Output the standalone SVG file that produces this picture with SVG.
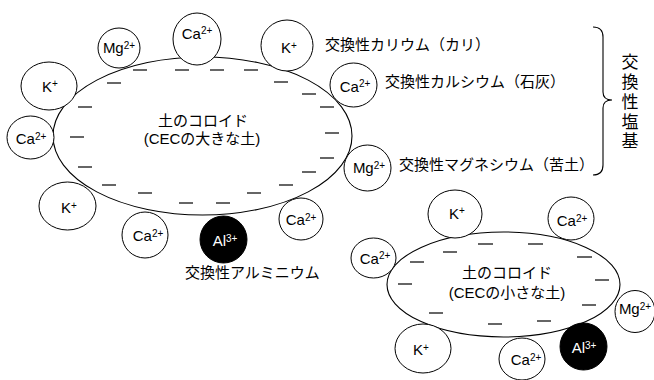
<svg xmlns="http://www.w3.org/2000/svg" width="654" height="380" viewBox="0 0 654 380">
<style>
.ln{fill:none;stroke:#000;stroke-width:1.1}
.ion{fill:#fff;stroke:#000;stroke-width:1}
.al{fill:#000;stroke:#000;stroke-width:1}
.t{font-family:"Liberation Sans","Noto Sans CJK JP",sans-serif;font-size:15px;fill:#000;text-anchor:middle}
.w{fill:#fff}
.s{font-size:10px}
.j{font-family:"Liberation Sans","Noto Sans CJK JP",sans-serif;font-size:15px;fill:#000}
.c{text-anchor:middle}
.v{font-family:"Noto Sans CJK JP",sans-serif;font-size:17px;fill:#000;writing-mode:vertical-rl;letter-spacing:2.75px}
.d{stroke:#000;stroke-width:1.2}
</style>
<rect width="654" height="380" fill="#fff"/>
<g id="colloid-large">
<ellipse class="ln" cx="202.5" cy="136" rx="149.5" ry="79"/>
<text class="j c" x="203" y="125.5">土のコロイド</text>
<text class="j c" x="202" y="144">(CECの大きな土)</text>
<g class="d">
<line x1="133" y1="70" x2="147" y2="70"/><line x1="175" y1="70" x2="189" y2="70"/>
<line x1="210" y1="70" x2="224" y2="70"/><line x1="244" y1="70" x2="258" y2="70"/>
<line x1="107" y1="83" x2="121" y2="83"/><line x1="274" y1="82" x2="288" y2="82"/>
<line x1="78" y1="107" x2="92" y2="107"/><line x1="302" y1="94" x2="316" y2="94"/>
<line x1="320" y1="107" x2="334" y2="107"/>
<line x1="70" y1="137" x2="84" y2="137"/><line x1="325" y1="133" x2="339" y2="133"/>
<line x1="78" y1="167" x2="92" y2="167"/><line x1="320" y1="158" x2="334" y2="158"/>
<line x1="302" y1="172" x2="316" y2="172"/>
<line x1="102" y1="185" x2="116" y2="185"/><line x1="279" y1="185" x2="293" y2="185"/>
<line x1="138" y1="193" x2="152" y2="193"/><line x1="247" y1="193" x2="261" y2="193"/>
<line x1="179" y1="203" x2="193" y2="203"/><line x1="216" y1="203" x2="230" y2="203"/>
</g>
</g>
<g id="colloid-small">
<ellipse class="ln" cx="503.5" cy="284.5" rx="116.5" ry="52.5"/>
<text class="j c" x="507" y="277.5">土のコロイド</text>
<text class="j c" x="507" y="297.5">(CECの小さな土)</text>
<g class="d">
<line x1="478" y1="244" x2="493" y2="244"/><line x1="528" y1="244" x2="543" y2="244"/>
<line x1="443" y1="252" x2="457" y2="252"/><line x1="577" y1="257" x2="592" y2="257"/>
<line x1="410" y1="262" x2="424" y2="262"/><line x1="595" y1="280" x2="609" y2="280"/>
<line x1="398" y1="284" x2="412" y2="284"/><line x1="582" y1="305" x2="596" y2="305"/>
<line x1="429" y1="313" x2="443" y2="313"/><line x1="488" y1="324" x2="502" y2="324"/>
<line x1="537" y1="321" x2="551" y2="321"/>
</g>
</g>
<g id="ion-mg-top"><ellipse class="ion" cx="119" cy="48" rx="21" ry="20"/><text class="t" x="119" y="53">Mg<tspan class="s" dy="-4.5">2+</tspan></text></g>
<g id="ion-ca-top"><ellipse class="ion" cx="197" cy="39" rx="24" ry="26"/><text class="t" x="197" y="38.5">Ca<tspan class="s" dy="-4.5">2+</tspan></text></g>
<g id="ion-k-top"><ellipse class="ion" cx="287" cy="45.5" rx="26" ry="25.5"/><text class="t" x="289" y="53">K<tspan class="s" dy="-4.5">+</tspan></text></g>
<g id="ion-k-left"><ellipse class="ion" cx="49" cy="86" rx="28" ry="24"/><text class="t" x="50" y="91.5">K<tspan class="s" dy="-4.5">+</tspan></text></g>
<g id="ion-ca-left"><ellipse class="ion" cx="30.5" cy="137.5" rx="23.5" ry="21.5"/><text class="t" x="31" y="144">Ca<tspan class="s" dy="-4.5">2+</tspan></text></g>
<g id="ion-ca-right"><ellipse class="ion" cx="353.5" cy="85" rx="23.5" ry="22"/><text class="t" x="355" y="91.5">Ca<tspan class="s" dy="-4.5">2+</tspan></text></g>
<g id="ion-mg-right"><ellipse class="ion" cx="367.5" cy="168" rx="23.5" ry="23"/><text class="t" x="369" y="173">Mg<tspan class="s" dy="-4.5">2+</tspan></text></g>
<g id="ion-k-lowleft"><ellipse class="ion" cx="67.5" cy="206" rx="28.5" ry="24"/><text class="t" x="69" y="213">K<tspan class="s" dy="-4.5">+</tspan></text></g>
<g id="ion-ca-bottom"><ellipse class="ion" cx="145" cy="235" rx="23" ry="23"/><text class="t" x="148" y="241">Ca<tspan class="s" dy="-4.5">2+</tspan></text></g>
<g id="ion-al-large"><circle class="al" cx="223.5" cy="239.5" r="23.5"/><text class="t w" x="225" y="246">Al<tspan class="s" dy="-4.5">3+</tspan></text></g>
<g id="ion-ca-lowright"><ellipse class="ion" cx="301" cy="219" rx="22" ry="21"/><text class="t" x="301" y="225">Ca<tspan class="s" dy="-4.5">2+</tspan></text></g>
<g id="ion-k-s-top"><ellipse class="ion" cx="455" cy="214" rx="27" ry="24"/><text class="t" x="457" y="218.5">K<tspan class="s" dy="-4.5">+</tspan></text></g>
<g id="ion-ca-s-topright"><ellipse class="ion" cx="571" cy="218.5" rx="23" ry="21.5"/><text class="t" x="572" y="226">Ca<tspan class="s" dy="-4.5">2+</tspan></text></g>
<g id="ion-ca-s-left"><ellipse class="ion" cx="373.5" cy="258" rx="22.5" ry="20"/><text class="t" x="375" y="263.5">Ca<tspan class="s" dy="-4.5">2+</tspan></text></g>
<g id="ion-mg-s-right"><ellipse class="ion" cx="635" cy="311.5" rx="20" ry="21"/><text class="t" x="635" y="314">Mg<tspan class="s" dy="-4.5">2+</tspan></text></g>
<g id="ion-al-small"><circle class="al" cx="583.5" cy="346.5" r="23.5"/><text class="t w" x="584" y="353">Al<tspan class="s" dy="-4.5">3+</tspan></text></g>
<g id="ion-ca-s-bottom"><ellipse class="ion" cx="522" cy="359" rx="23" ry="21"/><text class="t" x="526" y="365">Ca<tspan class="s" dy="-4.5">2+</tspan></text></g>
<g id="ion-k-s-bottom"><ellipse class="ion" cx="423" cy="348.5" rx="28" ry="24.5"/><text class="t" x="421" y="355">K<tspan class="s" dy="-4.5">+</tspan></text></g>
<g id="labels">
<text class="j" x="325" y="49.5">交換性カリウム（カリ）</text>
<text class="j" x="385" y="86.5">交換性カルシウム（石灰）</text>
<text class="j" x="399" y="169.5">交換性マグネシウム（苦土）</text>
<text class="j" x="185" y="278">交換性アルミニウム</text>
</g>
<g id="connectors">
<path class="ln" d="M593,27 Q603,27 603,37 L603,92 Q603,100 612,100 Q603,100 603,108 L603,165 Q603,175 593,175"/>
</g>
<g id="bracket-label">
<text class="v" x="630" y="53.5">交換性塩基</text>
</g>
</svg>
